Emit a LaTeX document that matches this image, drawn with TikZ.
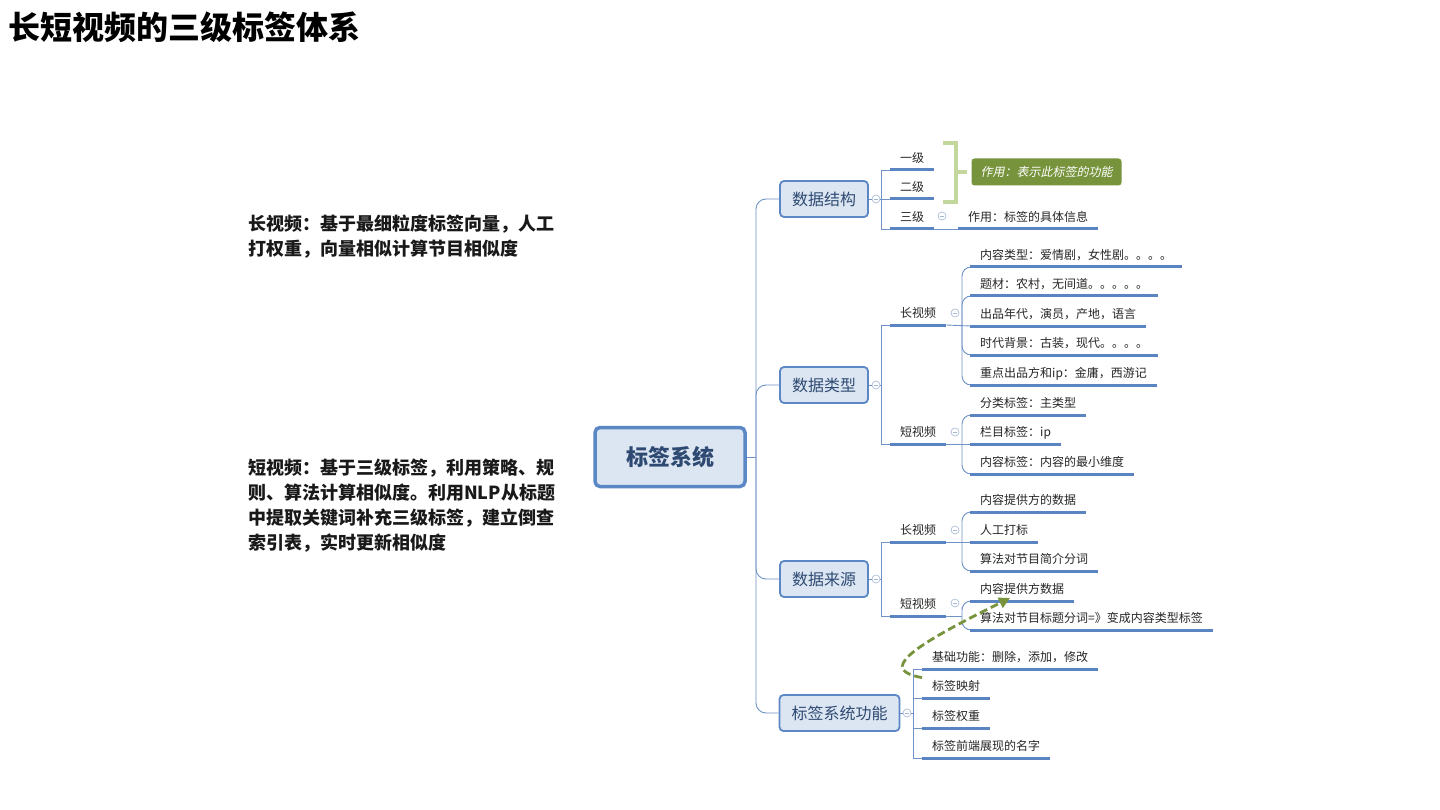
\documentclass[tikz,border=0pt]{standalone}
\usepackage{fontspec}
\setmainfont{Noto Sans CJK SC}
\newfontfamily\slantcjk{Noto Sans CJK SC}[FakeSlant=0.2]
\usetikzlibrary{arrows.meta}
\definecolor{boxfill}{HTML}{DCE6F2}
\definecolor{boxline}{HTML}{5B87C5}
\definecolor{connc}{HTML}{6F93C6}
\definecolor{ulinec}{HTML}{5A85C2}
\definecolor{btext}{HTML}{2E4A72}
\definecolor{olivec}{HTML}{77933C}
\definecolor{brkc}{HTML}{C3D69B}
\definecolor{minusc}{HTML}{A3B6D2}
\begin{document}
\begin{tikzpicture}[x=1pt,y=-1pt,
  rootbox/.style={draw=boxline, line width=3.5pt, fill=boxfill, rounded corners=5pt,
    minimum width=150pt, minimum height=59pt, font=\fontsize{22}{26}\selectfont\bfseries, text=btext},
  branch/.style={draw=boxline, line width=1.8pt, fill=boxfill, rounded corners=4pt,
    minimum height=36pt, inner xsep=12pt, font=\fontsize{16}{19}\selectfont, text=btext},
  item/.style={anchor=south west, inner xsep=10pt, inner ysep=4pt, text height=9pt, text depth=3pt,
    font=\fontsize{12}{14}\selectfont, text=black!85},
  conn/.style={draw=connc, line width=0.9pt},
  uline/.style={draw=ulinec, line width=3pt},
  minus/.style={circle, draw=minusc, fill=white, minimum size=8pt, inner sep=0pt, line width=0.6pt,
    path picture={\draw[minusc, line width=0.6pt] ([xshift=-2.3pt]path picture bounding box.center) -- ([xshift=2.3pt]path picture bounding box.center);}},
  lefttext/.style={anchor=north west, inner sep=0pt, align=left, font=\fontsize{18}{25}\selectfont\bfseries, text=black!90},
  summary/.style={fill=olivec, rounded corners=3pt, minimum width=150pt, minimum height=27pt,
    font=\fontsize{12}{14}\selectfont\slantcjk, text=white},
  linkarrow/.style={draw=olivec, line width=2.8pt, dash pattern=on 8pt off 4pt,
    -{Triangle[length=11pt,width=11pt]}}
]
\useasboundingbox[fill=white] (0,0) rectangle (1440,810);

% title and notes
\node[anchor=west, inner sep=0pt, font=\fontsize{32}{37}\selectfont\bfseries] (title) at (8,27) {长短视频的三级标签体系};
\node[lefttext] (note1) at (248,215) {长视频：基于最细粒度标签向量，人工\\打权重，向量相似计算节目相似度};
\node[lefttext] (note2) at (248,459) {短视频：基于三级标签，利用策略、规\\则、算法计算相似度。利用NLP从标题\\中提取关键词补充三级标签，建立倒查\\索引表，实时更新相似度};

% root and branches
\node[rootbox] (root) at (670,457) {标签系统};
\node[branch] (b1) at (824,199) {数据结构};
\node[branch] (b2) at (824,385) {数据类型};
\node[branch] (b3) at (824,579) {数据来源};
\node[branch] (b4) at (839.5,713) {标签系统功能};

\coordinate (j0) at (756,457);
\draw[conn] (root.east) -- (j0);
\draw[conn, rounded corners=10pt] (j0) |- (b1.west);
\draw[conn, rounded corners=10pt] (j0) |- (b2.west);
\draw[conn, rounded corners=10pt] (j0) |- (b3.west);
\draw[conn, rounded corners=10pt] (j0) |- (b4.west);

% collapse markers
\node[minus] (m1) at (876,199) {};
\node[minus] (m2) at (876,385) {};
\node[minus] (m3) at (876,579) {};
\node[minus] (m4) at (907,713) {};

% ---------- 数据结构
\node[item] (s1) at (890,170) {一级};
\node[item] (s2) at (890,199) {二级};
\node[item] (s3) at (890,229) {三级};
\node[item] (s3a) at (958,229) {作用：标签的具体信息};
\node[minus] (m5) at (942,216) {};
\coordinate (v1) at (881,199);
\draw[conn] (b1.east) -- (m1.west);
\draw[conn] (m1.east) -- (v1);
\draw[conn] (v1) |- (s1.south west);
\draw[conn] (v1) |- (s3.south west);
\draw[conn] (v1) -- (s2.south west);
\draw[conn] (s3.south east) -- (s3a.south west);

% bracket and summary
\node[summary] (g) at (1046.5,172) {作用：表示此标签的功能};
\coordinate (bt) at (943,143);
\coordinate (bb) at (943,202);
\coordinate (bm) at (956,172);
\draw[draw=brkc, line width=4pt] (bt) -| (bm) |- (bb);
\draw[draw=brkc, line width=4pt] (bm) -- ([xshift=-4pt]g.west);

% ---------- 数据类型
\node[item] (t1) at (890,325) {长视频};
\node[item] (t2) at (890,444) {短视频};
\coordinate (v2) at (881,385);
\draw[conn] (b2.east) -- (m2.west);
\draw[conn] (m2.east) -- (v2);
\draw[conn] (v2) |- (t1.south west);
\draw[conn] (v2) |- (t2.south west);
\node[minus] (m6) at (955,313) {};
\node[minus] (m7) at (955,432) {};

\node[item] (u1) at (970,267) {内容类型：爱情剧，女性剧。。。。};
\node[item] (u2) at (970,296) {题材：农村，无间道。。。。。};
\node[item] (u3) at (970,326) {出品年代，演员，产地，语言};
\node[item] (u4) at (970,355) {时代背景：古装，现代。。。。};
\node[item] (u5) at (970,385) {重点出品方和ip：金庸，西游记};
\coordinate (uj) at (962,326);
\draw[conn] (t1.south east) -- (u3.south west);
\draw[conn, rounded corners=9pt] (u1.south west) -| (uj) |- (u5.south west);
\draw[conn, rounded corners=9pt] (uj) |- (u2.south west);
\draw[conn, rounded corners=9pt] (uj) |- (u4.south west);

\node[item] (w1) at (970,415) {分类标签：主类型};
\node[item] (w2) at (970,444) {栏目标签：ip};
\node[item] (w3) at (970,474) {内容标签：内容的最小维度};
\coordinate (wj) at (962,444);
\draw[conn] (t2.south east) -- (w2.south west);
\draw[conn, rounded corners=9pt] (w1.south west) -| (wj) |- (w3.south west);

% ---------- 数据来源
\node[item] (x1) at (890,542) {长视频};
\node[item] (x2) at (890,616) {短视频};
\coordinate (v3) at (881,579);
\draw[conn] (b3.east) -- (m3.west);
\draw[conn] (m3.east) -- (v3);
\draw[conn] (v3) |- (x1.south west);
\draw[conn] (v3) |- (x2.south west);
\node[minus] (m8) at (955,530) {};
\node[minus] (m9) at (955,603) {};

\node[item] (y1) at (970,512) {内容提供方的数据};
\node[item] (y2) at (970,542) {人工打标};
\node[item] (y3) at (970,571) {算法对节目简介分词};
\coordinate (yj) at (962,542);
\draw[conn] (x1.south east) -- (y2.south west);
\draw[conn, rounded corners=9pt] (y1.south west) -| (yj) |- (y3.south west);

\node[item] (z1) at (970,601) {内容提供方数据};
\node[item] (z2) at (970,630) {算法对节目标题分词=》变成内容类型标签};
\coordinate (zj) at (962,616);
\draw[conn] (x2.south east) -- (zj);
\draw[conn, rounded corners=9pt] (z1.south west) -| (zj) |- (z2.south west);

% ---------- 标签系统功能
\node[item] (f1) at (922,669) {基础功能：删除，添加，修改};
\node[item] (f2) at (922,698) {标签映射};
\node[item] (f3) at (922,728) {标签权重};
\node[item] (f4) at (922,758) {标签前端展现的名字};
\coordinate (v4) at (913,713);
\draw[conn] (b4.east) -- (m4.west);
\draw[conn] (m4.east) -- (v4);
\draw[conn] (v4) |- (f1.south west);
\draw[conn] (v4) |- (f2.south west);
\draw[conn] (v4) |- (f3.south west);
\draw[conn] (v4) |- (f4.south west);

% underlines
\foreach \n in {s1,s2,s3,s3a,t1,t2,u1,u2,u3,u4,u5,w1,w2,w3,x1,x2,y1,y2,y3,z1,z2,f1,f2,f3,f4}
  \draw[uline] (\n.south west) -- (\n.south east);

% dashed link
\draw[linkarrow] (f2.north west) .. controls (880,670) and (905,650) .. ([xshift=40pt,yshift=3pt]z1.south west);
\end{tikzpicture}
\end{document}
